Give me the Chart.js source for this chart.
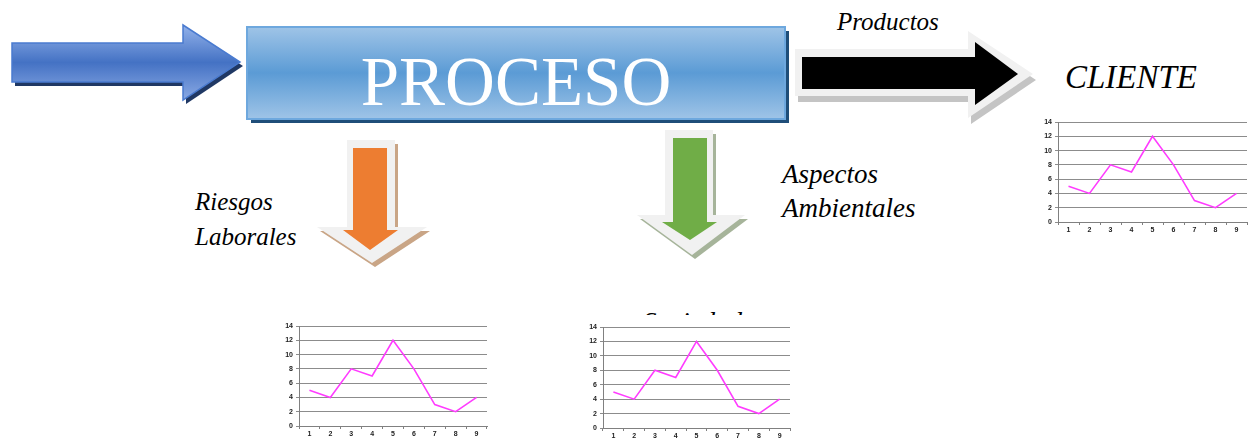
<!DOCTYPE html>
<html lang="es">
<head>
<meta charset="utf-8">
<title>Proceso</title>
<script src="https://cdn.jsdelivr.net/npm/chart.js@4"></script>
<style>
  html, body { margin: 0; padding: 0; background: #fff; }
  #stage { position: relative; width: 1253px; height: 442px; overflow: hidden; background: #fff; }
  #diagram { position: absolute; left: 0; top: 0; }
  .mini { position: absolute; background: #fff; }
  .mini canvas { display: block; }
  .serif { font-family: "Liberation Serif", "Times New Roman", "DejaVu Serif", serif; }
  .it { font-style: italic; }
</style>
</head>
<body>
<div id="stage">
  <svg id="diagram" width="1253" height="442" viewBox="0 0 1253 442" xmlns="http://www.w3.org/2000/svg">
    <defs>
      <linearGradient id="gBlue" gradientUnits="userSpaceOnUse" x1="0" y1="25" x2="0" y2="100">
        <stop offset="0" stop-color="#93b2ea"/>
        <stop offset="0.5" stop-color="#4472c4"/>
        <stop offset="1" stop-color="#8aa9e4"/>
      </linearGradient>
      <linearGradient id="gBox" x1="0" y1="0" x2="0" y2="1">
        <stop offset="0" stop-color="#9fc4e7"/>
        <stop offset="0.5" stop-color="#5b9bd5"/>
        <stop offset="1" stop-color="#9fc4e7"/>
      </linearGradient>
    </defs>

    <!-- entrada -->
    <polygon points="15,47 186,47 186,29 243,66 186,104 186,86 15,86" fill="#203864"/>
    <polygon points="12,43 183,43 183,25 240,62 183,100 183,82 12,82" fill="url(#gBlue)" stroke="#4a7bd0" stroke-width="1.5"/>

    <!-- caja del proceso -->
    <rect x="251" y="31" width="538" height="92" fill="#1f4e79"/>
    <rect x="247" y="27" width="538" height="92" fill="url(#gBox)" stroke="#6ea8de" stroke-width="2"/>
    <text class="serif" x="516" y="105" text-anchor="middle" font-size="69" fill="#ffffff">PROCESO</text>

    <!-- salida hacia el cliente -->
    <polygon points="798,55 971,55 971,37 1036,80 971,124 971,102 798,102" fill="#c4c4c4"/>
    <polygon points="795,49 968,49 968,31 1033,74 968,118 968,96 795,96" fill="#f1f1f1"/>
    <polygon points="802,57 975,57 975,42 1018,74 975,105 975,89 802,89" fill="#000000"/>
    <text class="serif it" x="837" y="30" font-size="25" fill="#000">Productos</text>
    <text class="serif it" x="1065" y="88" font-size="33" fill="#000">CLIENTE</text>

    <!-- riesgos laborales -->
    <polygon points="350,144 398,144 398,231 430,231 375,267 320,231 350,231" fill="#c9a586"/>
    <polygon points="347,140 395,140 395,227 427,227 372,263 317,227 347,227" fill="#f1f1f1"/>
    <polygon points="353,148 387,148 387,230 398,230 370,250 343,230 353,230" fill="#ed7d31"/>
    <text class="serif it" font-size="25" fill="#000">
      <tspan x="195" y="210">Riesgos</tspan>
      <tspan x="195" y="245">Laborales</tspan>
    </text>

    <!-- aspectos ambientales -->
    <polygon points="668,134 716,134 716,219 748,219 695,259 640,219 668,219" fill="#a6b49a"/>
    <polygon points="665,130 713,130 713,215 745,215 692,255 637,215 665,215" fill="#f1f1f1"/>
    <polygon points="673,138 707,138 707,222 717,222 690,240 662,222 673,222" fill="#70ad47"/>
    <text class="serif it" font-size="27" fill="#000">
      <tspan x="782" y="183">Aspectos</tspan>
      <tspan x="782" y="217">Ambientales</tspan>
    </text>

    <!-- sociedad (queda bajo el tercer gráfico) -->
    <text class="serif it" x="643" y="331" font-size="27" fill="#000">Sociedad</text>
  </svg>

  <div class="mini" style="left:1035px; top:112px;"><canvas id="chCliente" width="218" height="128"></canvas></div>
  <div class="mini" style="left:275px; top:315px;"><canvas id="chRiesgos" width="220" height="127"></canvas></div>
  <div class="mini" style="left:580px; top:315px;"><canvas id="chSociedad" width="220" height="127"></canvas></div>
</div>

<script>
// Datos de los tres gráficos (idénticos)
const categories = ['1', '2', '3', '4', '5', '6', '7', '8', '9'];
const seriesValues = [5, 4, 8, 7, 12, 8, 3, 2, 4];
const yTickLabels = [0, 2, 4, 6, 8, 10, 12, 14];

const tickFont = { family: "'Liberation Sans', Arial, sans-serif", size: 7, weight: 'bold' };

function miniChart(id, axisWidth, axisHeight, pad) {
  const ctx = document.getElementById(id);
  return new Chart(ctx, {
    type: 'line',
    data: {
      labels: categories,
      datasets: [{
        data: seriesValues,
        borderColor: '#ff3cff',
        borderWidth: 1.6,
        pointRadius: 0,
        tension: 0,
        fill: false
      }]
    },
    options: {
      responsive: false,
      animation: false,
      devicePixelRatio: 1,
      layout: { padding: pad },
      plugins: { legend: { display: false }, tooltip: { enabled: false } },
      scales: {
        x: {
          type: 'category',
          offset: true,
          afterFit: s => { s.height = axisHeight; },
          grid: { offset: true, drawOnChartArea: false, drawTicks: true, tickLength: 3, color: '#808080' },
          border: { color: '#808080', width: 1 },
          ticks: { font: tickFont, color: '#222', padding: 1, maxRotation: 0, autoSkip: false }
        },
        y: {
          min: 0,
          max: yTickLabels[yTickLabels.length - 1],
          afterFit: s => { s.width = axisWidth; },
          afterBuildTicks: s => { s.ticks = yTickLabels.map(v => ({ value: v })); },
          grid: { color: '#8c8c8c', lineWidth: 1, drawTicks: true, tickLength: 3 },
          border: { color: '#808080', width: 1 },
          ticks: { font: tickFont, color: '#222', padding: 3 }
        }
      }
    }
  });
}

miniChart('chCliente', 23, 18, { left: 0, top: 10, right: 6, bottom: 0 });
miniChart('chRiesgos', 24, 16, { left: 0, top: 11, right: 8, bottom: 0 });
miniChart('chSociedad', 23, 14, { left: 0, top: 12, right: 10, bottom: 0 });
</script>
</body>
</html>
